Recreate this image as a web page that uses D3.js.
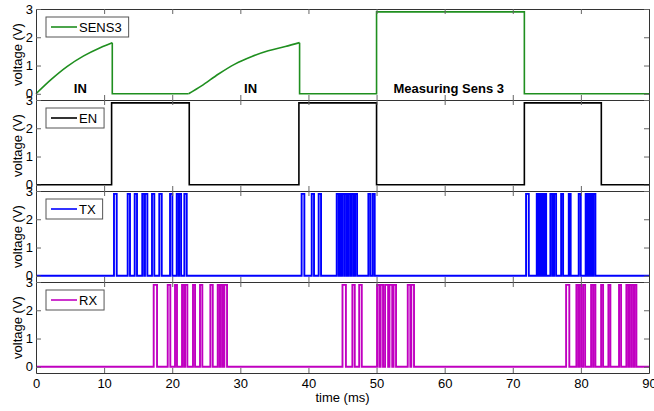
<!DOCTYPE html>
<html>
<head>
<meta charset="utf-8">
<script src="https://cdn.jsdelivr.net/npm/d3@7"></script>
<style>
  body { margin: 0; background: #fff; }
  svg { display: block; }
  text { font-family: Arial, "Liberation Sans", sans-serif; }
</style>
</head>
<body>
<div id="chart"></div>
<script>
// ---- data (time in ms, voltage in V) ----
var timeTicks = [0, 10, 20, 30, 40, 50, 60, 70, 80, 90];
var voltTicks = [0, 1, 2, 3];
var highLevel = 2.9;

// SENS3: two RC charging ramps, then the measuring plateau
var sens3Ramp1 = [[0, 0], [2.2, 0.5], [4.6, 0.97], [7.0, 1.34], [9.5, 1.64], [11.2, 1.81]];
var sens3Ramp2 = [[22.4, 0], [24.3, 0.28], [26.8, 0.7], [29.2, 1.05], [31.7, 1.32], [34.1, 1.52], [36.6, 1.67], [38.7, 1.81]];
var sens3Flat1 = [[11.2, 1.81], [11.2, 0], [22.4, 0]];
var sens3Flat2 = [[38.7, 1.81], [38.7, 0], [50.0, 0], [50.0, 2.9], [71.7, 2.9], [71.7, 0], [90, 0]];

// EN: on / off windows
var enPulses = [[11.1, 22.5], [38.6, 50.0], [71.7, 83.0]];

// TX bursts: [start, end] of each high pulse
var txPulses = [
  [11.45, 11.85], [13.46, 13.8], [14.49, 14.83], [15.6, 15.9], [16.0, 16.35], [17.03, 17.37],
  [18.1, 18.46], [19.68, 20.02], [20.66, 20.95], [21.0, 21.3], [21.78, 22.13],
  [39.0, 39.4], [40.48, 40.82], [41.5, 41.85], [44.15, 44.45], [44.54, 44.79], [44.93, 45.23],
  [45.33, 45.62], [45.86, 46.15], [46.36, 46.65], [46.84, 47.14], [48.8, 49.1], [49.44, 49.73],
  [71.95, 72.35], [73.52, 73.8], [74.0, 74.26], [74.35, 74.6], [74.64, 74.9], [75.52, 75.81],
  [76.06, 76.36], [77.1, 77.39], [78.22, 78.5], [79.68, 79.98], [80.7, 80.95], [81.06, 81.3],
  [81.35, 81.6], [81.84, 82.13]
];

// RX bursts
var rxPulses = [
  [17.28, 17.77], [19.34, 19.72], [20.41, 20.7], [21.44, 21.73], [21.88, 22.22], [23.05, 23.35],
  [24.08, 24.42], [25.6, 25.95], [26.68, 26.97], [27.12, 27.41], [27.65, 28.05],
  [45.0, 45.5], [46.45, 46.8], [47.45, 47.83], [50.07, 50.4], [50.6, 50.95], [51.25, 51.7],
  [51.9, 52.3], [52.5, 52.86], [54.58, 54.96], [55.1, 55.5],
  [77.83, 78.3], [79.34, 79.63], [79.74, 80.03], [80.32, 80.62], [81.5, 81.79], [81.84, 82.13],
  [82.97, 83.26], [84.04, 84.33], [85.6, 85.9], [86.68, 86.97], [87.08, 87.37], [87.42, 87.71],
  [87.86, 88.15]
];

var panelNames = ["SENS3", "EN", "TX", "RX"];
var panelColors = ["#1f8f1f", "#000000", "#0000ff", "#c000c0"];

// annotations in the SENS3 panel: [label, time]
var notes = [["IN", 6.5], ["IN", 31.5], ["Measuring Sens 3", 60.6]];

// ---- layout ----
var width = 654, height = 411;
var margin = {top: 9, left: 36, right: 5};
var panelH = 91;

var svg = d3.select("#chart").append("svg")
  .attr("width", width)
  .attr("height", height);

var x = d3.scaleLinear()
  .domain([0, 90])
  .range([margin.left, width - margin.right]);

// turn a list of [start,end] windows into a step trace
function stepPoints(pulses) {
  var pts = [[0, 0]];
  pulses.forEach(function(p) {
    pts.push([p[0], 0], [p[0], highLevel], [p[1], highLevel], [p[1], 0]);
  });
  pts.push([90, 0]);
  return pts;
}

panelNames.forEach(function(name, i) {
  var top = margin.top + i * panelH;
  var y = d3.scaleLinear()
    .domain([-0.22, 3])
    .range([top + panelH, top]);

  var g = svg.append("g").attr("class", "panel");
  var color = panelColors[i];

  var line = d3.line()
    .x(function(d) { return x(d[0]); })
    .y(function(d) { return y(d[1]); });
  var smooth = d3.line()
    .x(function(d) { return x(d[0]); })
    .y(function(d) { return y(d[1]); })
    .curve(d3.curveMonotoneX);

  var traces;
  if (name === "SENS3") {
    traces = [[sens3Ramp1, smooth], [sens3Flat1, line], [sens3Ramp2, smooth], [sens3Flat2, line]];
  } else if (name === "EN") {
    traces = [[stepPoints(enPulses), line]];
  } else if (name === "TX") {
    traces = [[stepPoints(txPulses), line]];
  } else {
    traces = [[stepPoints(rxPulses), line]];
  }

  traces.forEach(function(t) {
    g.append("path")
      .attr("d", t[1](t[0]))
      .attr("fill", "none")
      .attr("stroke", color)
      .attr("stroke-width", (name === "TX" || name === "RX") ? 1.9 : 1.6)
      .attr("stroke-linejoin", "miter");
  });

  // axes, ticks pointing inward like the scope export
  var bottom = d3.axisBottom(x).tickValues(timeTicks).tickSizeInner(-5).tickSizeOuter(0).tickPadding(6);
  if (i < panelNames.length - 1) bottom.tickFormat("");
  var topAx = d3.axisTop(x).tickValues(timeTicks).tickSizeInner(-5).tickSizeOuter(0).tickFormat("");
  var left = d3.axisLeft(y).tickValues(voltTicks).tickSizeInner(-5).tickSizeOuter(0).tickPadding(3).tickFormat(d3.format("d"));
  var right = d3.axisRight(y).tickValues(voltTicks).tickSizeInner(-5).tickSizeOuter(0).tickFormat("");

  [[bottom, "translate(0," + (top + panelH) + ")"],
   [topAx, "translate(0," + top + ")"],
   [left, "translate(" + margin.left + ",0)"],
   [right, "translate(" + (width - margin.right) + ",0)"]].forEach(function(a) {
    var ax = g.append("g")
      .attr("transform", a[1])
      .call(a[0]);
    ax.selectAll(".domain").attr("stroke", "#333");
    ax.selectAll(".tick line").attr("stroke", "#666");
    ax.selectAll("text")
      .attr("font-size", 13)
      .attr("font-family", "Arial, 'Liberation Sans', sans-serif")
      .attr("fill", "#000");
  });

  // y label
  g.append("text")
    .attr("transform", "translate(17," + (top + panelH / 2) + ") rotate(-90)")
    .attr("text-anchor", "middle")
    .attr("dy", "0.35em")
    .attr("font-size", 13)
    .text("voltage (V)");

  // legend
  var lg = g.append("g").attr("class", "legend");
  var box = lg.append("rect")
    .attr("x", 46)
    .attr("y", top + 8)
    .attr("height", 20)
    .attr("fill", "#fff")
    .attr("stroke", "#555")
    .attr("stroke-width", 1);
  lg.append("line")
    .attr("x1", 51).attr("x2", 77)
    .attr("y1", top + 18).attr("y2", top + 18)
    .attr("stroke", color)
    .attr("stroke-width", 1.6);
  var lt = lg.append("text")
    .attr("x", 79)
    .attr("y", top + 22.5)
    .attr("font-size", 13)
    .text(name);
  box.attr("width", 79 - 46 + lt.node().getComputedTextLength() + 7);

  if (name === "SENS3") {
    g.selectAll(".note")
      .data(notes)
      .enter()
      .append("text")
      .attr("class", "note")
      .attr("x", function(d) { return x(d[1]); })
      .attr("y", y(0) - 1)
      .attr("text-anchor", "middle")
      .attr("font-size", 13)
      .attr("font-weight", "bold")
      .text(function(d) { return d[0]; });
  }
});

svg.append("text")
  .attr("x", (x.range()[0] + x.range()[1]) / 2)
  .attr("y", 402)
  .attr("text-anchor", "middle")
  .attr("font-size", 13)
  .text("time (ms)");
</script>
</body>
</html>
